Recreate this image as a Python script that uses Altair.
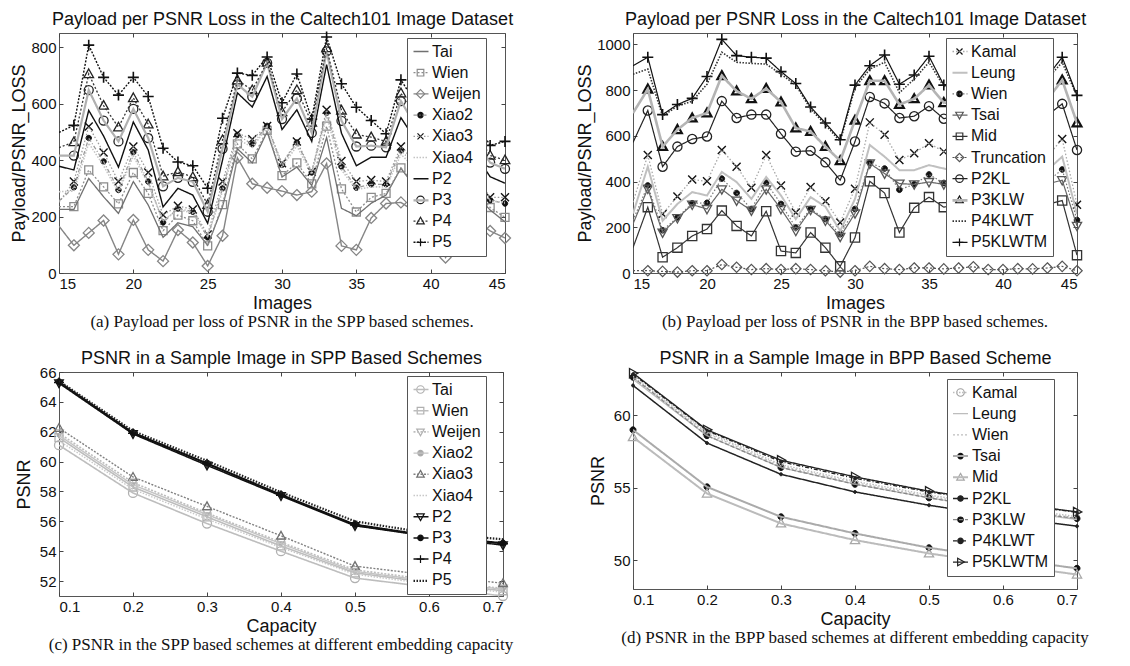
import altair as alt
import pandas as pd

# ---------------------------------------------------------------- data
IMAGES = list(range(15, 46))
CAPACITY = [0.1, 0.2, 0.3, 0.4, 0.5, 0.6, 0.7]

# (a) SPP based schemes, payload per PSNR loss
A_NAMES = ["Tai", "Wien", "Weijen", "Xiao2", "Xiao3", "Xiao4", "P2", "P3", "P4", "P5"]
A_TAI = [225, 225, 335, 270, 211, 324, 241, 126, 178, 164, 98, 235, 440, 390, 500, 340, 375, 310, 480, 229, 203, 247, 276, 371, 300, 260, 180, 250, 280, 223, 181]
A_WIEN = [235, 235, 365, 305, 245, 356, 282, 150, 205, 185, 96, 242, 457, 404, 505, 345, 390, 316, 520, 298, 216, 268, 282, 372, 310, 275, 200, 265, 290, 232, 197]
A_WEIJEN = [166, 98, 142, 186, 66, 188, 82, 42, 152, 108, 25, 132, 408, 316, 302, 290, 276, 288, 388, 96, 82, 195, 246, 250, 215, 160, 55, 140, 190, 149, 124]
A_XIAO2 = [255, 303, 478, 395, 294, 428, 324, 179, 229, 217, 126, 300, 489, 456, 521, 383, 462, 356, 567, 377, 302, 314, 314, 434, 380, 330, 280, 300, 330, 258, 246]
A_XIAO3 = [250, 324, 519, 427, 324, 448, 356, 205, 238, 225, 136, 324, 495, 474, 521, 389, 466, 359, 578, 397, 324, 329, 324, 448, 390, 345, 290, 315, 345, 268, 268]
A_XIAO4 = [288, 290, 460, 380, 285, 415, 315, 185, 225, 212, 130, 290, 475, 445, 515, 375, 450, 350, 555, 365, 295, 305, 305, 420, 370, 320, 270, 295, 325, 255, 250]
A_P2 = [378, 365, 576, 485, 375, 535, 436, 234, 300, 276, 176, 400, 638, 588, 696, 508, 578, 466, 738, 495, 380, 410, 410, 550, 470, 420, 360, 390, 420, 341, 318]
A_P3 = [416, 416, 648, 540, 466, 581, 478, 307, 337, 323, 217, 440, 668, 624, 744, 545, 618, 496, 785, 539, 448, 451, 445, 609, 520, 470, 410, 440, 470, 391, 369]
A_P4 = [444, 464, 705, 593, 516, 620, 527, 343, 358, 340, 242, 471, 683, 648, 746, 570, 648, 533, 797, 576, 491, 481, 466, 637, 550, 500, 445, 475, 500, 416, 400]
A_P5 = [498, 523, 807, 693, 630, 693, 625, 442, 393, 380, 300, 548, 708, 700, 765, 603, 705, 545, 836, 670, 587, 540, 493, 684, 600, 560, 500, 520, 540, 452, 466]

# (b) BPP based schemes, payload per PSNR loss
B_NAMES = ["Kamal", "Leung", "Wien", "Tsai", "Mid", "Truncation", "P2KL", "P3KLW", "P4KLWT", "P5KLWTM"]
B_KAMAL = [310, 516, 258, 335, 409, 401, 538, 465, 373, 516, 383, 265, 376, 314, 221, 369, 659, 605, 494, 524, 568, 531, 500, 520, 480, 500, 470, 490, 510, 586, 299]
B_LEUNG = [260, 465, 229, 302, 354, 339, 442, 398, 324, 420, 339, 236, 332, 290, 184, 324, 560, 509, 450, 450, 472, 457, 440, 450, 430, 440, 420, 430, 450, 509, 258]
B_WIEN = [230, 383, 187, 243, 305, 307, 413, 350, 280, 395, 302, 199, 280, 236, 170, 280, 482, 457, 364, 388, 431, 394, 400, 410, 380, 390, 370, 380, 400, 453, 232]
B_TSAI = [215, 369, 177, 240, 299, 280, 366, 317, 273, 366, 280, 184, 276, 229, 158, 261, 479, 435, 391, 388, 398, 388, 390, 400, 375, 385, 365, 375, 390, 406, 206]
B_MID = [111, 288, 69, 111, 162, 192, 273, 206, 162, 270, 96, 88, 177, 111, 29, 155, 401, 350, 177, 285, 332, 288, 300, 310, 280, 290, 270, 280, 300, 317, 78]
B_TRUNC = [10, 10, 7, 4, 10, 10, 37, 25, 15, 19, 15, 19, 15, 10, 4, 10, 29, 19, 15, 22, 22, 18, 22, 27, 15, 15, 19, 18, 22, 29, 10]
B_P2KL = [571, 711, 465, 553, 586, 597, 752, 678, 693, 693, 609, 531, 535, 484, 406, 575, 770, 742, 678, 686, 730, 675, 690, 700, 670, 680, 660, 670, 690, 740, 538]
B_P3KLW = [700, 804, 553, 627, 678, 700, 863, 796, 762, 807, 748, 634, 619, 553, 491, 668, 841, 841, 737, 762, 822, 745, 760, 770, 740, 750, 730, 740, 760, 844, 656]
B_P4KLWT = [870, 892, 686, 730, 752, 826, 966, 922, 917, 914, 870, 822, 718, 649, 575, 811, 892, 922, 789, 848, 922, 816, 830, 850, 820, 830, 810, 820, 850, 922, 774]
B_P5KLWTM = [907, 944, 693, 737, 764, 860, 1022, 951, 944, 940, 881, 829, 726, 656, 583, 822, 907, 954, 826, 866, 948, 822, 840, 860, 830, 840, 820, 830, 860, 944, 777]

# (c) PSNR of SPP based schemes vs capacity
C_NAMES = ["Tai", "Wien", "Weijen", "Xiao2", "Xiao3", "Xiao4", "P2", "P3", "P4", "P5"]
C_TAI = [61.1, 57.9, 55.85, 54.0, 52.2, 51.6, 51.0]
C_WIEN = [61.6, 58.3, 56.3, 54.35, 52.55, 51.9, 51.35]
C_WEIJEN = [61.9, 58.6, 56.55, 54.6, 52.75, 52.1, 51.5]
C_XIAO2 = [61.75, 58.45, 56.45, 54.5, 52.65, 52.0, 51.45]
C_XIAO3 = [62.25, 58.97, 57.0, 55.03, 53.0, 52.4, 51.85]
C_XIAO4 = [61.4, 58.15, 56.15, 54.25, 52.45, 51.8, 51.25]
C_P2 = [65.25, 61.85, 59.75, 57.7, 55.7, 55.0, 54.4]
C_P3 = [65.35, 61.95, 59.9, 57.8, 55.8, 55.05, 54.55]
C_P4 = [65.3, 61.9, 59.85, 57.75, 55.75, 55.0, 54.5]
C_P5 = [65.4, 62.05, 60.05, 57.95, 56.0, 55.2, 54.8]

# (d) PSNR of BPP based schemes vs capacity
D_NAMES = ["Kamal", "Leung", "Wien", "Tsai", "Mid", "P2KL", "P3KLW", "P4KLWT", "P5KLWTM"]
D_KAMAL = [62.7, 58.85, 56.6, 55.45, 54.5, 53.7, 53.0]
D_LEUNG = [62.5, 58.6, 56.4, 55.25, 54.3, 53.5, 52.8]
D_WIEN = [62.6, 58.75, 56.5, 55.35, 54.4, 53.6, 52.9]
D_TSAI = [59.0, 55.06, 52.99, 51.84, 50.85, 50.1, 49.43]
D_MID = [58.5, 54.6, 52.53, 51.38, 50.46, 49.7, 49.0]
D_P2KL = [62.07, 58.09, 55.93, 54.71, 53.79, 53.0, 52.34]
D_P3KLW = [62.64, 58.6, 56.4, 55.24, 54.3, 53.5, 52.87]
D_P4KLWT = [62.85, 58.95, 56.8, 55.65, 54.7, 53.95, 53.3]
D_P5KLWTM = [62.92, 59.0, 56.9, 55.75, 54.76, 54.0, 53.33]

# ---------------------------------------------------------------- styles
FONT = "Liberation Sans"
SERIF = "Liberation Serif"

MK = {
    "circle": ("M0.5,0A0.5,0.5,0,1,1,-0.5,0A0.5,0.5,0,1,1,0.5,0Z", 0.5),
    "dot": ("M0.36,0A0.36,0.36,0,1,1,-0.36,0A0.36,0.36,0,1,1,0.36,0Z", 0.36),
    "square": ("M-0.44,-0.44L0.44,-0.44L0.44,0.44L-0.44,0.44Z", 0.44),
    "diamond": ("M0,-0.56L0.56,0L0,0.56L-0.56,0Z", 0.56),
    "tri_up": ("M0,-0.52L0.5,0.38L-0.5,0.38Z", 0.52),
    "tri_down": ("M0,0.52L0.5,-0.38L-0.5,-0.38Z", 0.52),
    "tri_right": ("M0.52,0L-0.38,0.5L-0.38,-0.5Z", 0.52),
    "x": ("M-0.4,-0.4L0.4,0.4M-0.4,0.4L0.4,-0.4", 0.4),
    "plus": ("M-0.52,0L0.52,0M0,-0.52L0,0.52", 0.52),
    "none": ("M0,0", 1.0),
}
T = "transparent"
SOLID = [1, 0]
# series: (line colour, dash, line width, marker, marker stroke, marker fill, marker half-size px, marker stroke width)
STY_A = {
    "Tai": ("#707070", SOLID, 1.3, "none", "#707070", T, 1, 1),
    "Wien": ("#8c8c8c", [2, 2], 1.3, "square", "#8c8c8c", T, 4, 1.3),
    "Weijen": ("#858585", SOLID, 1.4, "diamond", "#858585", T, 5.5, 1.3),
    "Xiao2": ("#9a9a9a", [4, 2, 1, 2], 1.3, "dot", "#111111", "#111111", 2.7, 1),
    "Xiao3": ("#9a9a9a", [1.5, 2], 1.3, "x", "#111111", T, 4, 1.4),
    "Xiao4": ("#c4c4c4", [1.5, 1.5], 1.6, "none", "#c4c4c4", T, 1, 1),
    "P2": ("#111111", SOLID, 1.4, "none", "#111111", T, 1, 1),
    "P3": ("#b0b0b0", SOLID, 2.2, "circle", "#222222", T, 4.5, 1.3),
    "P4": ("#333333", [2, 2], 1.3, "tri_up", "#222222", T, 5, 1.3),
    "P5": ("#111111", [2, 1.5], 1.4, "plus", "#111111", T, 5.5, 1.6),
}
STY_B = {
    "Kamal": ("#a8a8a8", [1.5, 2], 1.3, "x", "#111111", T, 4, 1.4),
    "Leung": ("#c0c0c0", SOLID, 2.0, "none", "#c0c0c0", T, 1, 1),
    "Wien": ("#777777", [1.5, 2], 1.2, "dot", "#111111", "#111111", 2.8, 1),
    "Tsai": ("#666666", SOLID, 1.2, "tri_down", "#555555", T, 4.8, 1.3),
    "Mid": ("#333333", SOLID, 1.2, "square", "#333333", T, 4.6, 1.3),
    "Truncation": ("#555555", [2, 2], 1.2, "diamond", "#555555", T, 5.2, 1.2),
    "P2KL": ("#222222", SOLID, 1.2, "circle", "#222222", T, 4.6, 1.3),
    "P3KLW": ("#b4b4b4", SOLID, 2.6, "tri_up", "#111111", T, 4.6, 2.2),
    "P4KLWT": ("#333333", [1.5, 1.5], 1.6, "none", "#333333", T, 1, 1),
    "P5KLWTM": ("#111111", SOLID, 1.2, "plus", "#111111", T, 5.5, 1.6),
}
STY_C = {
    "Tai": ("#bdbdbd", SOLID, 1.6, "circle", "#b0b0b0", T, 4.5, 1.3),
    "Wien": ("#bdbdbd", SOLID, 1.6, "square", "#b0b0b0", T, 4, 1.3),
    "Weijen": ("#bdbdbd", [2, 1.5], 1.6, "tri_down", "#b0b0b0", T, 4.5, 1.3),
    "Xiao2": ("#c4c4c4", SOLID, 1.4, "dot", "#aaaaaa", "#aaaaaa", 1.8, 1),
    "Xiao3": ("#808080", [2, 1.5], 1.4, "tri_up", "#707070", T, 4.5, 1.3),
    "Xiao4": ("#c8c8c8", [1.5, 1.5], 1.4, "none", "#c8c8c8", T, 1, 1),
    "P2": ("#111111", SOLID, 1.5, "tri_down", "#111111", T, 4.5, 1.3),
    "P3": ("#111111", SOLID, 1.5, "dot", "#111111", "#111111", 3, 1),
    "P4": ("#111111", SOLID, 1.5, "plus", "#111111", T, 5, 1.4),
    "P5": ("#222222", [1.5, 1.5], 2.2, "none", "#222222", T, 1, 1),
}
STY_D = {
    "Kamal": ("#bdbdbd", [1.5, 1.5], 1.3, "circle", "#a0a0a0", T, 2.4, 1),
    "Leung": ("#bdbdbd", SOLID, 1.3, "none", "#bdbdbd", T, 1, 1),
    "Wien": ("#bdbdbd", [2, 2], 1.3, "none", "#bdbdbd", T, 1, 1),
    "Tsai": ("#aaaaaa", SOLID, 2.0, "dot", "#111111", "#111111", 3, 1),
    "Mid": ("#bbbbbb", SOLID, 2.0, "tri_up", "#a8a8a8", T, 4.8, 1.3),
    "P2KL": ("#222222", SOLID, 1.5, "dot", "#222222", "#222222", 1.5, 1),
    "P3KLW": ("#888888", [4, 2], 1.3, "dot", "#111111", "#111111", 3, 1),
    "P4KLWT": ("#222222", [4, 2, 1, 2], 1.3, "dot", "#222222", "#222222", 1.5, 1),
    "P5KLWTM": ("#222222", SOLID, 1.4, "tri_right", "#222222", T, 4.8, 1.3),
}


def long_table(xs, names, series_lists, xname):
    rows = []
    for name, vals in zip(names, series_lists):
        for xv, v in zip(xs, vals):
            rows.append({xname: xv, "value": v, "series": name})
    return pd.DataFrame(rows)


def build_panel(df, xfield, names, sty, xdom, ydom, xvals, yvals, xfmt, yfmt,
                xtitle, ytitle, heading, caption, w, h, lx, ly, ypad, pfilter=None):
    xs = alt.Scale(domain=xdom, nice=False, zero=False)
    ys = alt.Scale(domain=ydom, nice=False, zero=False)
    ax = dict(labelFont=FONT, labelFontSize=15, labelColor="#111111", tickColor="#444444",
              tickSize=4, offset=-4, domain=False, grid=False, titleFont=FONT,
              titleFontSize=18, titleFontWeight="normal", titleColor="#111111")
    x_bottom = alt.Axis(orient="bottom", values=xvals, format=xfmt, title=xtitle,
                        labelPadding=3, titlePadding=3, **ax)
    y_left = alt.Axis(orient="left", values=yvals, format=yfmt, title=ytitle,
                      labelPadding=3, titlePadding=ypad, **ax)
    x_top = alt.Axis(orient="top", values=xvals, labels=False, title=heading,
                     titlePadding=4, **ax)
    y_right = alt.Axis(orient="right", values=yvals, labels=False, title=None, **ax)

    leg = dict(orient="none", legendX=lx, legendY=ly, title=None, padding=5,
               labelFont=FONT, labelFontSize=16, symbolSize=225, rowPadding=4.2,
               labelOffset=3)
    # marker legend: boxed, white, carries the labels (drawn first)
    mark_leg = alt.Legend(fillColor="white", strokeColor="#555555", labelColor="#111111",
                          symbolStrokeWidth=1.2, zindex=1, **leg)
    # line legend: transparent, drawn over it at the same place
    line_leg = alt.Legend(labelColor="transparent", zindex=2, **leg)

    # size / stroke width scales get a spare domain entry so that their (hidden)
    # legends stay apart from the marker legend
    aux = names + ["~"]
    pbase = alt.Chart(df)
    if pfilter:
        pbase = pbase.transform_filter(pfilter)
    points = pbase.mark_point(opacity=1).encode(
        x=alt.X(f"{xfield}:Q", scale=xs, axis=x_top),
        y=alt.Y("value:Q", scale=ys, axis=y_right),
        shape=alt.Shape("series:N", scale=alt.Scale(domain=names, range=[MK[sty[n][3]][0] for n in names]), legend=mark_leg),
        stroke=alt.Stroke("series:N", scale=alt.Scale(domain=names, range=[sty[n][4] for n in names]), legend=mark_leg),
        fill=alt.Fill("series:N", scale=alt.Scale(domain=names, range=[sty[n][5] for n in names]), legend=mark_leg),
        size=alt.Size("series:N", scale=alt.Scale(type="ordinal", domain=aux, range=[(2 * sty[n][6] / MK[sty[n][3]][1]) ** 2 for n in names] + [1]), legend=None),
        strokeWidth=alt.StrokeWidth("series:N", scale=alt.Scale(type="ordinal", domain=aux, range=[sty[n][7] for n in names] + [1]), legend=None),
    )
    lines = alt.Chart(df).mark_line(clip=True).encode(
        x=alt.X(f"{xfield}:Q", scale=xs, axis=x_bottom),
        y=alt.Y("value:Q", scale=ys, axis=y_left),
        stroke=alt.Stroke("series:N", scale=alt.Scale(domain=names, range=[sty[n][0] for n in names]), legend=line_leg),
        strokeDash=alt.StrokeDash("series:N", scale=alt.Scale(domain=names, range=[sty[n][1] for n in names]), legend=line_leg),
        strokeWidth=alt.StrokeWidth("series:N", scale=alt.Scale(type="ordinal", domain=names, range=[sty[n][2] for n in names]), legend=line_leg),
    )
    return (
        alt.layer(points, lines)
        .resolve_scale(stroke="independent", strokeDash="independent", strokeWidth="independent",
                       shape="independent", fill="independent", size="independent")
        .resolve_axis(x="independent", y="independent")
        .properties(width=w, height=h,
                    title=alt.TitleParams(caption, orient="bottom", frame="group", anchor="middle",
                                          font=SERIF, fontSize=17, fontWeight="normal",
                                          color="#111111", offset=2))
    )


df_a = long_table(IMAGES, A_NAMES, [A_TAI, A_WIEN, A_WEIJEN, A_XIAO2, A_XIAO3, A_XIAO4, A_P2, A_P3, A_P4, A_P5], "img")
df_b = long_table(IMAGES, B_NAMES, [B_KAMAL, B_LEUNG, B_WIEN, B_TSAI, B_MID, B_TRUNC, B_P2KL, B_P3KLW, B_P4KLWT, B_P5KLWTM], "img")
df_c = long_table(CAPACITY, C_NAMES, [C_TAI, C_WIEN, C_WEIJEN, C_XIAO2, C_XIAO3, C_XIAO4, C_P2, C_P3, C_P4, C_P5], "cap")
df_d = long_table(CAPACITY, D_NAMES, [D_KAMAL, D_LEUNG, D_WIEN, D_TSAI, D_MID, D_P2KL, D_P3KLW, D_P4KLWT, D_P5KLWTM], "cap")

HEAD_AB = "Payload per PSNR Loss in the Caltech101 Image Dataset"

pa = build_panel(df_a, "img", A_NAMES, STY_A, [15, 45], [0, 850], [15, 20, 25, 30, 35, 40, 45],
                 [0, 200, 400, 600, 800], "d", "d", "Images", "Payload/PSNR_LOSS", HEAD_AB,
                 "(a) Payload per loss of PSNR in the SPP based schemes.", 446, 240, 348, 5, 2,
                 "datum.img > 15")
pb = build_panel(df_b, "img", B_NAMES, STY_B, [15, 45], [0, 1050], [15, 20, 25, 30, 35, 40, 45],
                 [0, 200, 400, 600, 800, 1000], "d", "d", "Images", "Payload/PSNR_LOSS", HEAD_AB,
                 "(b) Payload per loss of PSNR in the BPP based schemes.", 444, 240, 313, 5, 2,
                 "datum.img > 15")
pc = build_panel(df_c, "cap", C_NAMES, STY_C, [0.1, 0.7], [51, 66], CAPACITY,
                 [52, 54, 56, 58, 60, 62, 64, 66], ".1f", "d", "Capacity", "PSNR",
                 "PSNR in a Sample Image in SPP Based Schemes",
                 "(c) PSNR in the SPP based schemes at different embedding capacity", 444, 224, 348, 4, 6)
pd_ = build_panel(df_d, "cap", D_NAMES, STY_D, [0.1, 0.7], [48, 63], CAPACITY,
                  [50, 55, 60], ".1f", "d", "Capacity", "PSNR",
                  "PSNR in a Sample Image in BPP Based Scheme",
                  "(d) PSNR in the BPP based schemes at different embedding capacity", 444, 217, 314, 7, 6)

chart = (
    alt.concat(pa, pb, pc, pd_, columns=2, spacing={"row": 99, "column": 128}, bounds="flush")
    .properties(padding={"left": 2, "top": 2, "right": 0, "bottom": 0})
    .configure(font=FONT)
    .configure_view(stroke="#555555", strokeWidth=1)
)

chart.save("out.html", embed_options={"renderer": "svg", "actions": False})
